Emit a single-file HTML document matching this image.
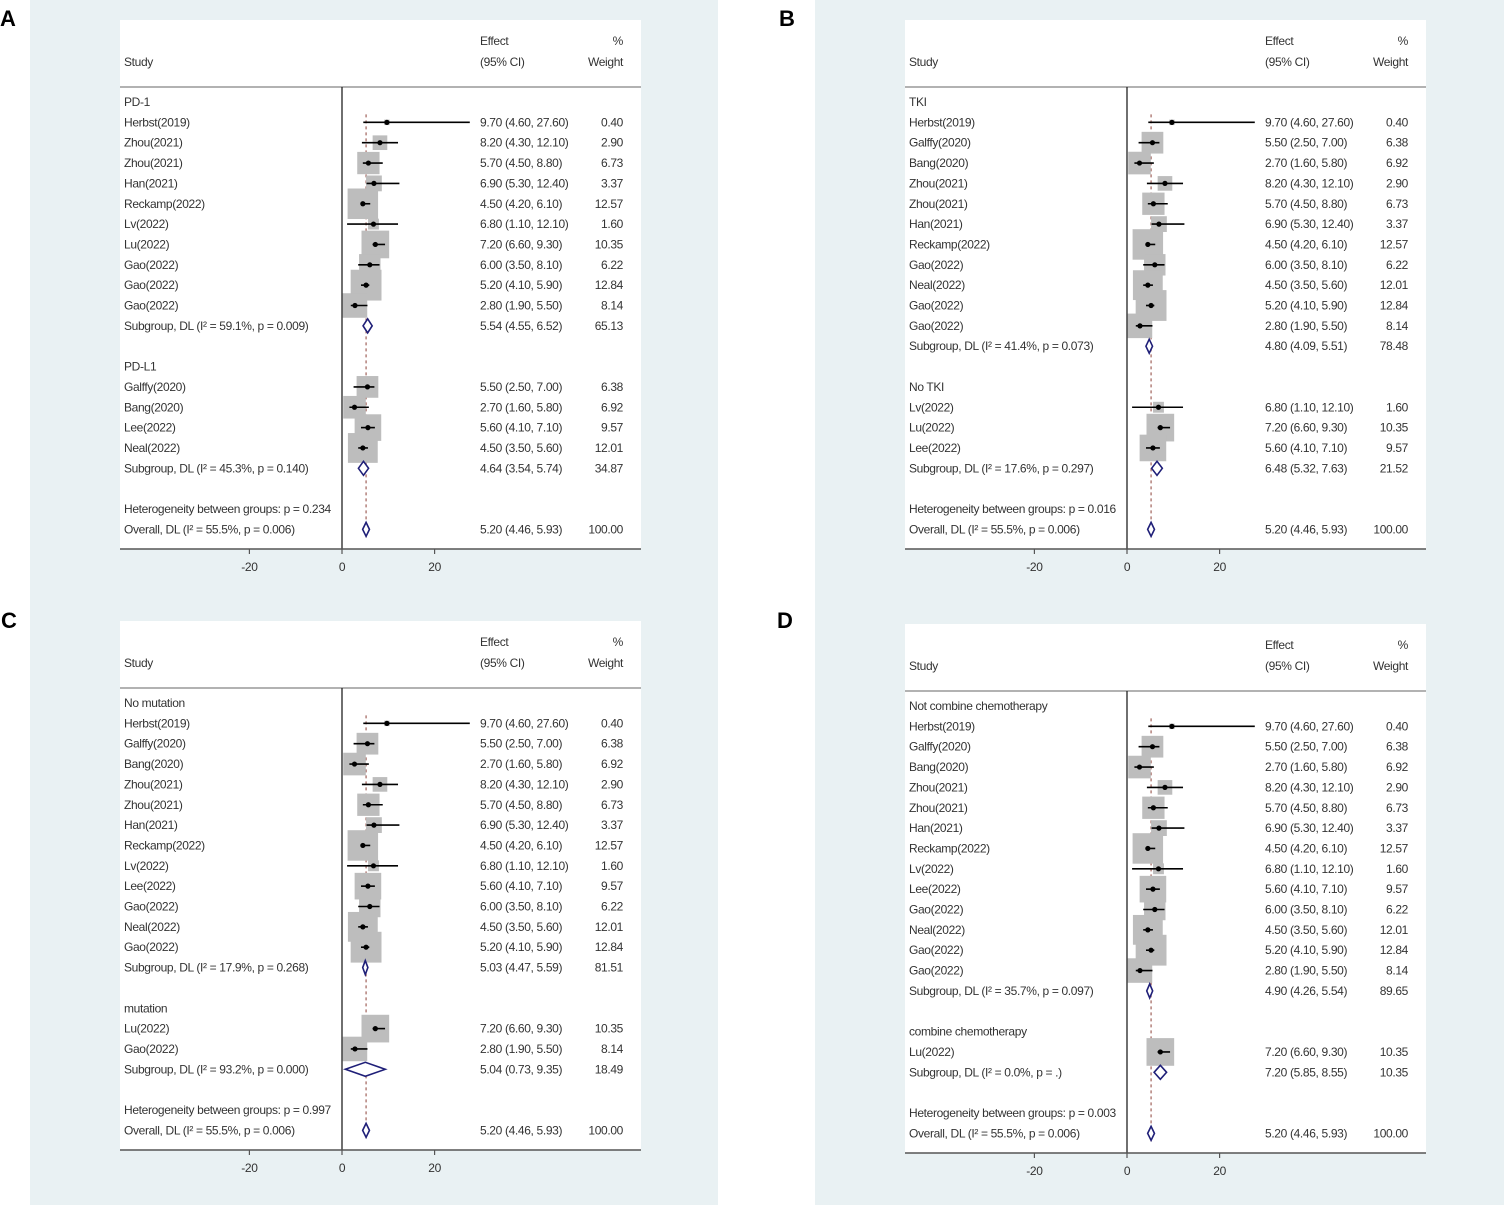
<!DOCTYPE html>
<html><head><meta charset="utf-8"><style>
html,body{margin:0;padding:0;background:#fff;}
svg{display:block;font-family:"Liberation Sans",Arial,sans-serif;}
.t{font-size:12px;fill:#333;letter-spacing:-0.35px;}
.lab{font-size:22px;font-weight:bold;fill:#000;}
</style></head><body>
<svg id="fig" width="1504" height="1207" viewBox="0 0 1504 1207" xmlns="http://www.w3.org/2000/svg">
<rect x="30" y="0" width="688" height="1205" fill="#e9f1f3"/>
<rect x="815" y="0" width="689" height="1205" fill="#e9f1f3"/>
<text class="lab" x="0" y="26">A</text>
<text class="lab" x="779" y="26">B</text>
<text class="lab" x="1" y="628">C</text>
<text class="lab" x="777" y="628">D</text>
</svg>
<script>
// ---- Panel A data ----
const kindsA = ['h','s','s','s','s','s','s','s','s','s','s','g','b','h','s','s','s','s','g','b','t','o'];
const labelsA = ['PD-1','Herbst(2019)','Zhou(2021)','Zhou(2021)','Han(2021)','Reckamp(2022)','Lv(2022)','Lu(2022)','Gao(2022)','Gao(2022)','Gao(2022)','Subgroup, DL (I² = 59.1%, p = 0.009)','','PD-L1','Galffy(2020)','Bang(2020)','Lee(2022)','Neal(2022)','Subgroup, DL (I² = 45.3%, p = 0.140)','','Heterogeneity between groups: p = 0.234','Overall, DL (I² = 55.5%, p = 0.006)'];
const estA = [null,9.70,8.20,5.70,6.90,4.50,6.80,7.20,6.00,5.20,2.80,5.54,null,null,5.50,2.70,5.60,4.50,4.64,null,null,5.20];
const loA  = [null,4.60,4.30,4.50,5.30,4.20,1.10,6.60,3.50,4.10,1.90,4.55,null,null,2.50,1.60,4.10,3.50,3.54,null,null,4.46];
const hiA  = [null,27.60,12.10,8.80,12.40,6.10,12.10,9.30,8.10,5.90,5.50,6.52,null,null,7.00,5.80,7.10,5.60,5.74,null,null,5.93];
const wtA  = [null,0.40,2.90,6.73,3.37,12.57,1.60,10.35,6.22,12.84,8.14,65.13,null,null,6.38,6.92,9.57,12.01,34.87,null,null,100.00];
// ---- Panel B data ----
const kindsB = ['h','s','s','s','s','s','s','s','s','s','s','s','g','b','h','s','s','s','g','b','t','o'];
const labelsB = ['TKI','Herbst(2019)','Galffy(2020)','Bang(2020)','Zhou(2021)','Zhou(2021)','Han(2021)','Reckamp(2022)','Gao(2022)','Neal(2022)','Gao(2022)','Gao(2022)','Subgroup, DL (I² = 41.4%, p = 0.073)','','No TKI','Lv(2022)','Lu(2022)','Lee(2022)','Subgroup, DL (I² = 17.6%, p = 0.297)','','Heterogeneity between groups: p = 0.016','Overall, DL (I² = 55.5%, p = 0.006)'];
const estB = [null,9.70,5.50,2.70,8.20,5.70,6.90,4.50,6.00,4.50,5.20,2.80,4.80,null,null,6.80,7.20,5.60,6.48,null,null,5.20];
const loB  = [null,4.60,2.50,1.60,4.30,4.50,5.30,4.20,3.50,3.50,4.10,1.90,4.09,null,null,1.10,6.60,4.10,5.32,null,null,4.46];
const hiB  = [null,27.60,7.00,5.80,12.10,8.80,12.40,6.10,8.10,5.60,5.90,5.50,5.51,null,null,12.10,9.30,7.10,7.63,null,null,5.93];
const wtB  = [null,0.40,6.38,6.92,2.90,6.73,3.37,12.57,6.22,12.01,12.84,8.14,78.48,null,null,1.60,10.35,9.57,21.52,null,null,100.00];
// ---- Panel C data ----
const kindsC = ['h','s','s','s','s','s','s','s','s','s','s','s','s','g','b','h','s','s','g','b','t','o'];
const labelsC = ['No mutation','Herbst(2019)','Galffy(2020)','Bang(2020)','Zhou(2021)','Zhou(2021)','Han(2021)','Reckamp(2022)','Lv(2022)','Lee(2022)','Gao(2022)','Neal(2022)','Gao(2022)','Subgroup, DL (I² = 17.9%, p = 0.268)','','mutation','Lu(2022)','Gao(2022)','Subgroup, DL (I² = 93.2%, p = 0.000)','','Heterogeneity between groups: p = 0.997','Overall, DL (I² = 55.5%, p = 0.006)'];
const estC = [null,9.70,5.50,2.70,8.20,5.70,6.90,4.50,6.80,5.60,6.00,4.50,5.20,5.03,null,null,7.20,2.80,5.04,null,null,5.20];
const loC  = [null,4.60,2.50,1.60,4.30,4.50,5.30,4.20,1.10,4.10,3.50,3.50,4.10,4.47,null,null,6.60,1.90,0.73,null,null,4.46];
const hiC  = [null,27.60,7.00,5.80,12.10,8.80,12.40,6.10,12.10,7.10,8.10,5.60,5.90,5.59,null,null,9.30,5.50,9.35,null,null,5.93];
const wtC  = [null,0.40,6.38,6.92,2.90,6.73,3.37,12.57,1.60,9.57,6.22,12.01,12.84,81.51,null,null,10.35,8.14,18.49,null,null,100.00];
// ---- Panel D data ----
const kindsD = ['h','s','s','s','s','s','s','s','s','s','s','s','s','s','g','b','h','s','g','b','t','o'];
const labelsD = ['Not combine chemotherapy','Herbst(2019)','Galffy(2020)','Bang(2020)','Zhou(2021)','Zhou(2021)','Han(2021)','Reckamp(2022)','Lv(2022)','Lee(2022)','Gao(2022)','Neal(2022)','Gao(2022)','Gao(2022)','Subgroup, DL (I² = 35.7%, p = 0.097)','','combine chemotherapy','Lu(2022)','Subgroup, DL (I² = 0.0%, p = .)','','Heterogeneity between groups: p = 0.003','Overall, DL (I² = 55.5%, p = 0.006)'];
const estD = [null,9.70,5.50,2.70,8.20,5.70,6.90,4.50,6.80,5.60,6.00,4.50,5.20,2.80,4.90,null,null,7.20,7.20,null,null,5.20];
const loD  = [null,4.60,2.50,1.60,4.30,4.50,5.30,4.20,1.10,4.10,3.50,3.50,4.10,1.90,4.26,null,null,6.60,5.85,null,null,4.46];
const hiD  = [null,27.60,7.00,5.80,12.10,8.80,12.40,6.10,12.10,7.10,8.10,5.60,5.90,5.50,5.54,null,null,9.30,8.55,null,null,5.93];
const wtD  = [null,0.40,6.38,6.92,2.90,6.73,3.37,12.57,1.60,9.57,6.22,12.01,12.84,8.14,89.65,null,null,10.35,10.35,null,null,100.00];
const axisTicks = [-20, 0, 20];

const NS = 'http://www.w3.org/2000/svg';
const svg = document.getElementById('fig');
function mk(tag, attrs, parent){
  const e = document.createElementNS(NS, tag);
  for (const k in attrs) e.setAttribute(k, attrs[k]);
  (parent || svg).appendChild(e);
  return e;
}
function panel(id, dx, dy, kinds, labels, est, lo, hi, wt){
  const g = mk('g', {});
  
  
  const L = 120 + dx, R = 641 + dx, top = 20 + dy, axisY = 549 + dy;
  const zeroX = 342 + dx, pxPerUnit = 4.63;
  const xs = v => zeroX + v * pxPerUnit;
  const base = 102 + dy, step = 20.35;
  const ys = i => base + i * step;
  const bg = mk('rect', {x: L, y: top, width: R - L, height: axisY - top, fill: '#fff'}, g);
  
  
  const hs = mk('text', {x: 124 + dx, y: 66 + dy, class: 't'}, g); hs.textContent = 'Study';
  
  
  const he1 = mk('text', {x: 480 + dx, y: 45 + dy, class: 't'}, g); he1.textContent = 'Effect';
  
  
  const he2 = mk('text', {x: 480 + dx, y: 66 + dy, class: 't'}, g); he2.textContent = '(95% CI)';
  
  
  const hw1 = mk('text', {x: 623 + dx, y: 45 + dy, class: 't', 'text-anchor': 'end'}, g); hw1.textContent = '%';
  
  
  const hw2 = mk('text', {x: 623 + dx, y: 66 + dy, class: 't', 'text-anchor': 'end'}, g); hw2.textContent = 'Weight';
  
  
  const dv = mk('line', {x1: L, x2: R, y1: 87 + dy, y2: 87 + dy, stroke: '#999', 'stroke-width': 1.5}, g);
  
  
  const oi = kinds.indexOf('o');
  const ov = est[oi];
  const ref = mk('line', {x1: xs(ov), x2: xs(ov), y1: ys(1) - 8, y2: ys(oi) + 8, stroke: '#a0605a', 'stroke-width': 1.2, 'stroke-dasharray': '3,3'}, g);
  
  
  // boxes first
  kinds.forEach((k, i) => {
    if (k !== 's') return;
    const s = 8.6 * Math.sqrt(wt[i]);
    const b = mk('rect', {x: xs(est[i]) - s/2, y: ys(i) - s/2, width: s, height: s, fill: '#bdbdbd'}, g);
    
    
  });
  const zl = mk('line', {x1: zeroX, x2: zeroX, y1: 87 + dy, y2: axisY, stroke: '#222', 'stroke-width': 1.3}, g);
  
  
  kinds.forEach((k, i) => {
    const y = ys(i);
    if (labels[i]) {
      const t = mk('text', {x: 124 + dx, y: y + 4, class: 't'}, g);
      t.textContent = labels[i];
      
      
    }
    if (est[i] === null) return;
    const ci = mk('text', {x: 480 + dx, y: y + 4, class: 't'}, g);
    ci.textContent = est[i].toFixed(2) + ' (' + lo[i].toFixed(2) + ', ' + hi[i].toFixed(2) + ')';
    
    
    const w = mk('text', {x: 623 + dx, y: y + 4, class: 't', 'text-anchor': 'end'}, g);
    w.textContent = wt[i].toFixed(2);
    
    
    if (k === 's') {
      const ln = mk('line', {x1: xs(lo[i]), x2: xs(hi[i]), y1: y, y2: y, stroke: '#000', 'stroke-width': 1.6}, g);
      
      
      const d = mk('circle', {cx: xs(est[i]), cy: y, r: 2.6, fill: '#000'}, g);
      
      
    } else {
      const pts = [xs(lo[i]) + ',' + y, xs(est[i]) + ',' + (y - 7), xs(hi[i]) + ',' + y, xs(est[i]) + ',' + (y + 7)].join(' ');
      const dm = mk('polygon', {points: pts, fill: '#fff', stroke: '#1f1f78', 'stroke-width': 1.6}, g);
      
      
    }
  });
  const ax = mk('line', {x1: L, x2: R, y1: axisY, y2: axisY, stroke: '#555', 'stroke-width': 1.6}, g);
  
  
  axisTicks.forEach(v => {
    const tk = mk('line', {x1: xs(v), x2: xs(v), y1: axisY, y2: axisY + 5, stroke: '#555', 'stroke-width': 1.2}, g);
    
    
    const tl = mk('text', {x: xs(v), y: axisY + 22, class: 't', 'text-anchor': 'middle'}, g);
    tl.textContent = String(v);
    
    
  });
}
panel('a', 0, 0, kindsA, labelsA, estA, loA, hiA, wtA);
panel('b', 785, 0, kindsB, labelsB, estB, loB, hiB, wtB);
panel('c', 0, 601, kindsC, labelsC, estC, loC, hiC, wtC);
panel('d', 785, 604, kindsD, labelsD, estD, loD, hiD, wtD);
</script>
</body></html>
